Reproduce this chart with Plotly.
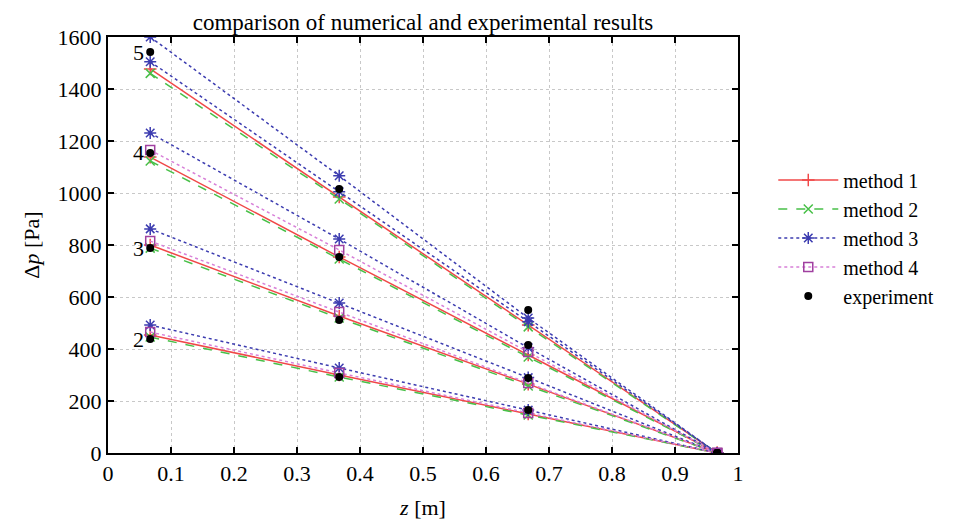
import plotly.graph_objects as go

z = [0.067, 0.367, 0.667, 0.967]

# each method: list of curves (one per case), values in Pa at positions z
method1 = [[1477, 985, 492, 0], [1138, 754, 377, 0], [800, 527, 265, 0], [454, 300, 150, 0]]
method2 = [[1460, 977, 485, 0], [1123, 746, 369, 0], [788, 519, 258, 0], [446, 292, 146, 0]]
method3 = [[1600, 1066, 519, 0], [1505, 1005, 505, 0], [1231, 823, 405, 0], [862, 577, 290, 0], [492, 327, 165, 0]]
method4 = [[1165, 781, 388, 0], [815, 542, 269, 0], [465, 308, 154, 0]]
experiment = [[1542, 1015, 550, 0], [1154, 754, 415, 0], [788, 512, 288, 0], [438, 292, 165, 0]]
case_labels = ["5", "4", "3", "2"]

xticks = [0, 0.1, 0.2, 0.3, 0.4, 0.5, 0.6, 0.7, 0.8, 0.9, 1]
xticktext = ["0", "0.1", "0.2", "0.3", "0.4", "0.5", "0.6", "0.7", "0.8", "0.9", "1"]
yticks = [0, 200, 400, 600, 800, 1000, 1200, 1400, 1600]

FONT = "Liberation Serif"
FS = 22

W, H = 951, 515  # page body has an 8px margin


def joined(curves):
    xs, ys = [], []
    for c in curves:
        xs += z + [None]
        ys += c + [None]
    return xs, ys


fig = go.Figure()

specs = [
    ("method 1", method1, "#f04848", "solid", "cross-thin", 9, "#f04848"),
    ("method 2", method2, "#48c048", "dash", "x-thin", 9, "#48c048"),
    ("method 3", method3, "#3c3cb0", "dot", "asterisk", 10, "#3c3cb0"),
    ("method 4", method4, "#d880d8", "dot", "square-open", 9, "#a040a0"),
]
for name, curves, col, dash, sym, size, mcol in specs:
    xs, ys = joined(curves)
    fig.add_trace(go.Scatter(
        x=xs, y=ys, name=name, mode="lines+markers",
        line=dict(color=col, width=1.5, dash=dash),
        marker=dict(symbol=sym, size=size, color=mcol, line=dict(color=mcol, width=1.5)),
        connectgaps=False,
    ))

xs, ys = joined(experiment)
fig.add_trace(go.Scatter(
    x=xs, y=ys, name="experiment", mode="markers",
    marker=dict(symbol="circle", size=8, color="black"),
))

for lab, curve in zip(case_labels, experiment):
    fig.add_annotation(x=z[0], y=curve[0], text=lab, showarrow=False,
                       xanchor="right", xshift=-4, yshift=0,
                       font=dict(family=FONT, size=FS, color="black"))

axis_common = dict(
    showline=True, linecolor="black", linewidth=2, mirror="allticks",
    ticks="inside", ticklen=6, tickwidth=1.5, tickcolor="black",
    showgrid=True, gridcolor="#c8c8c8", griddash="dot", gridwidth=1,
    zeroline=False, automargin=False,
    tickfont=dict(family=FONT, size=FS, color="black"),
)

fig.update_layout(
    width=W, height=H,
    margin=dict(l=100, r=221, t=29, b=70, autoexpand=False),
    paper_bgcolor="white", plot_bgcolor="white",
    title=dict(text="comparison of numerical and experimental results",
               x=(100 + 730) / 2 / W, xanchor="center", y=1 - 14 / H, yanchor="middle",
               font=dict(family=FONT, size=23, color="black"), automargin=False),
    xaxis=dict(range=[0, 1], tickvals=xticks, ticktext=xticktext,
               title=dict(text="<i>z</i> [m]", font=dict(family=FONT, size=FS, color="black"), standoff=14),
               **axis_common),
    yaxis=dict(range=[0, 1600], tickvals=yticks,
               title=dict(text="Δ<i>p</i> [Pa]", font=dict(family=FONT, size=FS, color="black"), standoff=12),
               **axis_common),
    legend=dict(x=1.056, y=0.703, xanchor="left", yanchor="top",
                font=dict(family=FONT, size=20, color="black"),
                bgcolor="rgba(0,0,0,0)", tracegroupgap=0, itemwidth=60),
    showlegend=True,
)

fig.write_html("out.html")
